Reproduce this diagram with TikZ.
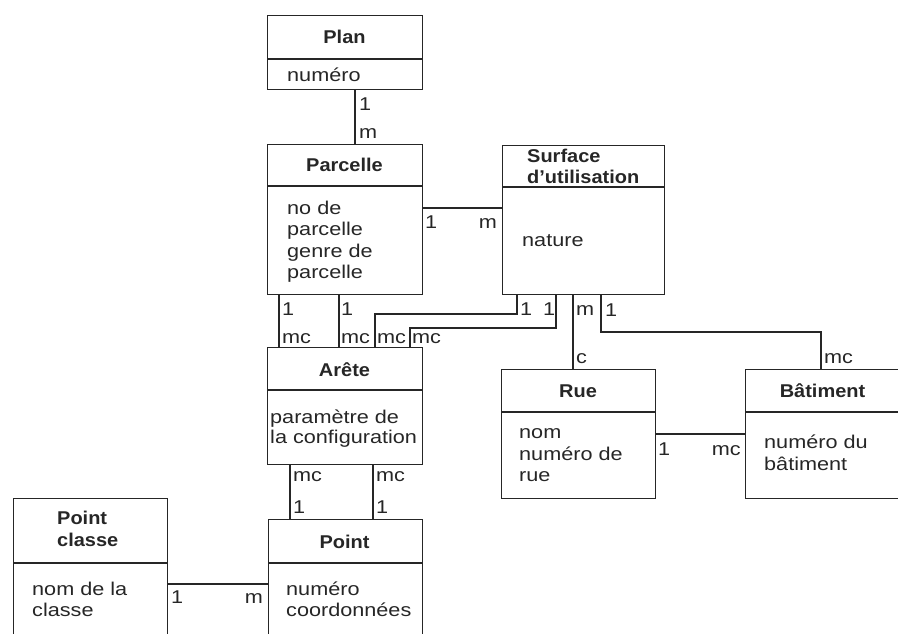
\documentclass[tikz,border=0pt]{standalone}
\usepackage{fontspec}
\setmainfont{Liberation Sans}[FakeStretch=1.17]
\newfontfamily\tfont{Liberation Sans}[FakeStretch=1.08]
\begin{document}
\begin{tikzpicture}[x=1pt,y=-1pt,
  box/.style={draw=black!85, line width=1.4pt, inner sep=0pt, anchor=north west},
  div/.style={draw=black!85, line width=1.4pt},
  conn/.style={draw=black!85, line width=1.3pt},
  title/.style={font=\tfont\bfseries\fontsize{18.5}{21.5}\selectfont, inner sep=0pt, anchor=base, text=black!85},
  mtitle/.style={font=\tfont\bfseries\fontsize{18.5}{21.5}\selectfont, inner sep=0pt, anchor=base west, align=left, text=black!85},
  attr/.style={font=\fontsize{18.5}{21.5}\selectfont, inner sep=0pt, anchor=base west, align=left, text=black!85},
  lab/.style={font=\fontsize{18.5}{21.5}\selectfont, inner sep=0pt, anchor=base west, text=black!85},
  labr/.style={lab, anchor=base east}]
\useasboundingbox (0,0) rectangle (898,633);
\clip (0,0) rectangle (898,633);

% entity boxes
\node[box, minimum width=155pt, minimum height=74pt] (plan) at (267,15) {};
\draw[div] (plan.west |- 0,59) -- (plan.east |- 0,59);
\node[box, minimum width=155pt, minimum height=150pt] (parcelle) at (267,144) {};
\draw[div] (parcelle.west |- 0,186) -- (parcelle.east |- 0,186);
\node[box, minimum width=162pt, minimum height=149pt] (surface) at (502,145) {};
\draw[div] (surface.west |- 0,187) -- (surface.east |- 0,187);
\node[box, minimum width=155pt, minimum height=117pt] (arete) at (267,347) {};
\draw[div] (arete.west |- 0,390) -- (arete.east |- 0,390);
\node[box, minimum width=154pt, minimum height=129pt] (rue) at (501,369) {};
\draw[div] (rue.west |- 0,412) -- (rue.east |- 0,412);
\node[box, minimum width=155pt, minimum height=129pt] (batiment) at (745,369) {};
\draw[div] (batiment.west |- 0,412) -- (batiment.east |- 0,412);
\node[box, minimum width=154pt, minimum height=130pt] (point) at (268,519) {};
\draw[div] (point.west |- 0,563) -- (point.east |- 0,563);
\node[box, minimum width=154pt, minimum height=150pt] (pclasse) at (13,498) {};
\draw[div] (pclasse.west |- 0,563) -- (pclasse.east |- 0,563);

% titles (multi-line nodes: base = last line)
\node[title] (tplan) at (344.5,43.3) {Plan};
\node[title] (tparcelle) at (344.5,171.7) {Parcelle};
\node[mtitle] (tsurface) at (527,183.5) {Surface\\d’utilisation};
\node[title] (tarete) at (344.5,376.7) {Arête};
\node[title] (true) at (578,397.3) {Rue};
\node[title] (tbatiment) at (822.5,397.3) {Bâtiment};
\node[title] (tpoint) at (344.5,548.3) {Point};
\node[mtitle] (tpclasse) at (57,546) {Point\\classe};

% attributes
\node[attr] (aplan) at (287,81.7) {numéro};
\node[attr] (aparcelle) at (287,278.5) {no de\\parcelle\\genre de\\parcelle};
\node[attr] (asurface) at (522,246.7) {nature};
\node[attr, font=\fontsize{18.5}{20}\selectfont] (aarete) at (270,443.3) {paramètre de\\la configuration};
\node[attr] (arue) at (519,481.5) {nom\\numéro de\\rue};
\node[attr] (abatiment) at (764,470) {numéro du\\bâtiment};
\node[attr] (apoint) at (286,616.7) {numéro\\coordonnées};
\node[attr] (apclasse) at (32,616.7) {nom de la\\classe};

% connectors
\draw[conn] (plan.south -| 355,0) -- (parcelle.north -| 355,0);
\draw[conn] (parcelle.east |- 0,208) -- (surface.west |- 0,208);
\draw[conn] (parcelle.south -| 279,0) -- (arete.north -| 279,0);
\draw[conn] (parcelle.south -| 339,0) -- (arete.north -| 339,0);
\draw[conn] (surface.south -| 517,0) -- (517,314) -| (arete.north -| 375,0);
\draw[conn] (surface.south -| 556,0) -- (556,328) -| (arete.north -| 410,0);
\draw[conn] (surface.south -| 573,0) -- (rue.north -| 573,0);
\draw[conn] (surface.south -| 601,0) -- (601,332) -| (batiment.north -| 821,0);
\draw[conn] (rue.east |- 0,434) -- (batiment.west |- 0,434);
\draw[conn] (arete.south -| 290,0) -- (point.north -| 290,0);
\draw[conn] (arete.south -| 373,0) -- (point.north -| 373,0);
\draw[conn] (pclasse.east |- 0,584) -- (point.west |- 0,584);

% cardinality labels
\node[lab] (c1) at (359,110) {1};
\node[lab] (c2) at (359,138) {m};
\node[lab] (c3) at (425,228) {1};
\node[labr] (c4) at (497,228) {m};
\node[lab] (c5) at (282,315) {1};
\node[lab] (c6) at (282,343) {mc};
\node[lab] (c7) at (341,315) {1};
\node[lab] (c8) at (341,343) {mc};
\node[lab] (c9) at (377,343) {mc};
\node[lab] (c10) at (412,343) {mc};
\node[lab] (c11) at (520,315) {1};
\node[lab] (c12) at (543,315) {1};
\node[lab] (c13) at (576,315.7) {m};
\node[lab] (c14) at (576,363) {c};
\node[lab] (c15) at (605,316) {1};
\node[lab] (c16) at (824,363) {mc};
\node[lab] (c17) at (658,455) {1};
\node[labr] (c18) at (741,455) {mc};
\node[lab] (c19) at (293,481.7) {mc};
\node[lab] (c20) at (293,513) {1};
\node[lab] (c21) at (376,481.7) {mc};
\node[lab] (c22) at (376,513) {1};
\node[lab] (c23) at (171,603) {1};
\node[labr] (c24) at (263,603) {m};
\end{tikzpicture}
\end{document}
